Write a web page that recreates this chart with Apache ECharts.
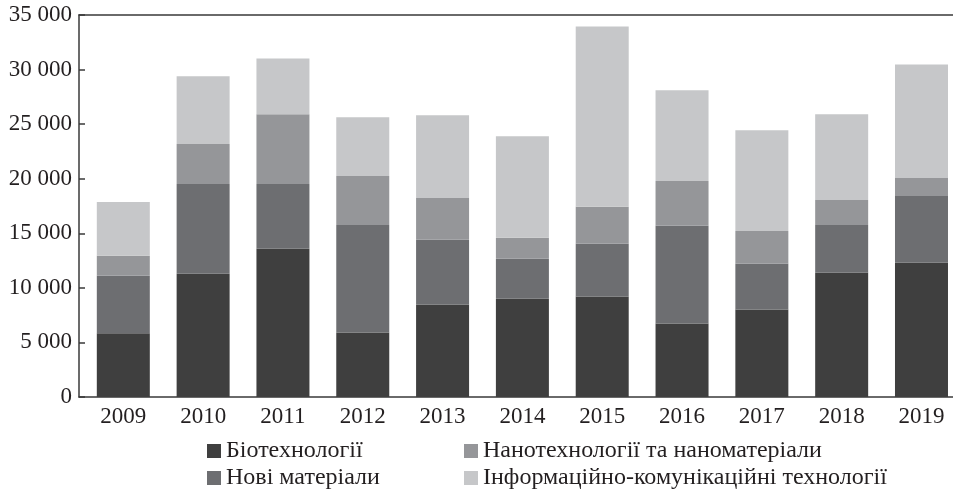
<!DOCTYPE html>
<html>
<head>
<meta charset="utf-8">
<title>Stacked bars</title>
<script src="https://cdn.jsdelivr.net/npm/echarts@6/dist/echarts.min.js"></script>
<style>
  html, body { margin: 0; padding: 0; background: #fff; }
  #chart { width: 953px; height: 491px; }
</style>
</head>
<body>
<div id="chart"></div>
<script>
// роки
var years = ['2009', '2010', '2011', '2012', '2013', '2014', '2015', '2016', '2017', '2018', '2019'];
// значення серій (знизу вгору)
var bio = [5850, 11300, 13580, 5910, 8470, 9010, 9200, 6730, 8010, 11390, 12300];
var newMat = [5250, 8220, 5940, 9860, 5930, 3660, 4840, 8950, 4200, 4380, 6120];
var nano = [1850, 3650, 6390, 4480, 3840, 1910, 3380, 4110, 3010, 2280, 1640];
var ict = [4920, 6210, 5110, 5380, 7580, 9320, 16530, 8310, 9230, 7860, 10410];

var names = ['Біотехнології', 'Нові матеріали', 'Нанотехнології та наноматеріали', 'Інформаційно-комунікаційні технології'];
var colors = ['#3f3f3f', '#6d6e71', '#959699', '#c6c7c9'];
var font = '"Liberation Serif", "Times New Roman", serif';
var axisColor = '#3a3a3a';

var myChart = echarts.init(document.getElementById('chart'));

function makeSeries(name, data, i) {
    return {
        name: name,
        type: 'bar',
        stack: 'total',
        barWidth: 53,
        xAxisIndex: 2,
        yAxisIndex: 1,
        data: data,
        itemStyle: { color: colors[i] }
    };
}

// по одному пункту легенди, щоб вийшли дві колонки
function makeLegend(left, top, item) {
    return {
        left: left,
        top: top,
        padding: 0,
        icon: 'rect',
        itemWidth: 14,
        itemHeight: 14,
        data: [item],
        textStyle: { fontFamily: font, fontSize: 24, lineHeight: 24, color: '#231f20' }
    };
}

myChart.setOption({
    animation: false,
    color: colors,
    // grid 0 - рамка і вісь Y, grid 1 - стовпці (трохи зсунуті вправо)
    grid: [
        { left: 79, top: 15, right: 0, bottom: 94, outerBoundsMode: 'none' },
        { left: 83.4, top: 15, right: -8.4, bottom: 94, outerBoundsMode: 'none' }
    ],
    legend: [
        makeLegend(207, 439, names[0]),
        makeLegend(207, 466, names[1]),
        makeLegend(464, 439, names[2]),
        makeLegend(464, 466, names[3])
    ],
    xAxis: [
        {
            gridIndex: 0,
            type: 'category',
            data: years,
            axisLine: { lineStyle: { color: axisColor, width: 1.5 } },
            axisTick: { show: false },
            axisLabel: { show: false }
        },
        {
            gridIndex: 0,
            type: 'category',
            position: 'top',
            data: years,
            axisLine: { show: true, lineStyle: { color: axisColor, width: 1.5 } },
            axisTick: { show: false },
            axisLabel: { show: false }
        },
        {
            gridIndex: 1,
            type: 'category',
            data: years,
            axisLine: { show: false },
            axisTick: { show: false },
            axisLabel: { fontFamily: font, fontSize: 23, color: '#231f20', margin: 8 }
        }
    ],
    yAxis: [
        {
            gridIndex: 0,
            type: 'value',
            min: 0,
            max: 35000,
            interval: 5000,
            splitLine: { show: false },
            axisLine: { show: true, lineStyle: { color: axisColor, width: 1.5 } },
            axisTick: { show: true, inside: true, length: 6, lineStyle: { color: axisColor, width: 1.5 } },
            axisLabel: {
                fontFamily: font,
                fontSize: 23,
                color: '#231f20',
                margin: 7,
                formatter: function (v) {
                    return String(v).replace(/\B(?=(\d{3})+(?!\d))/g, ' ');
                }
            }
        },
        {
            gridIndex: 1,
            type: 'value',
            min: 0,
            max: 35000,
            interval: 5000,
            show: false
        }
    ],
    series: [
        makeSeries(names[0], bio, 0),
        makeSeries(names[1], newMat, 1),
        makeSeries(names[2], nano, 2),
        makeSeries(names[3], ict, 3)
    ]
});
</script>
</body>
</html>
